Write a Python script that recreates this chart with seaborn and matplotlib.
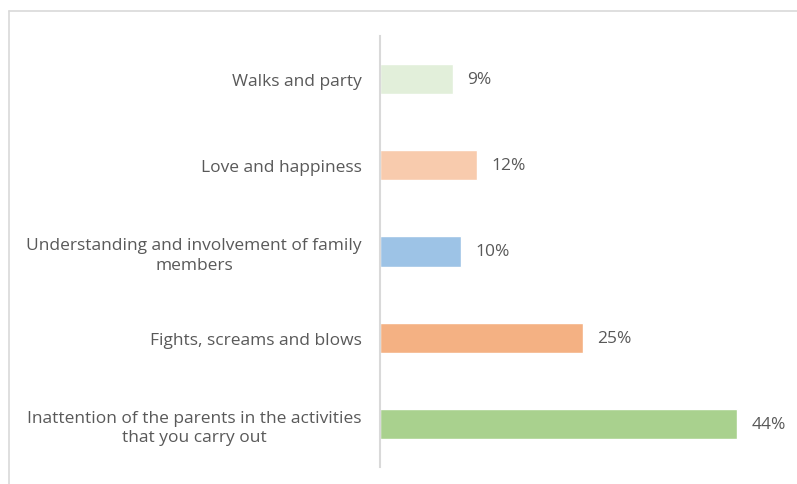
import matplotlib
matplotlib.use("Agg")
import matplotlib.pyplot as plt
from matplotlib.lines import Line2D
import seaborn as sns
import pandas as pd

categories = [
    "Walks and party",
    "Love and happiness",
    "Understanding and involvement of family\nmembers",
    "Fights, screams and blows",
    "Inattention of the parents in the activities\nthat you carry out",
]
values = [9, 12, 10, 25, 44]
colors = ["#E2EFDA", "#F8CBAD", "#9DC3E6", "#F4B183", "#A9D18E"]

sns.set_theme(style="white")
plt.rcParams["font.family"] = ["Open Sans", "DejaVu Sans"]
text_color = "#595959"
fsize = 12.5

df = pd.DataFrame({"category": categories, "value": values})

fig = plt.figure(figsize=(7.97, 4.85), dpi=100)
ax = fig.add_axes([380 / 797, 17 / 485, 406 / 797, 431 / 485])

sns.barplot(data=df, x="value", y="category", hue="category",
            palette=colors, orient="h", width=0.35, legend=False,
            saturation=1, ax=ax)

ax.set_xlim(0, 50)
ax.set_ylim(4.5, -0.5)
ax.set_xlabel("")
ax.set_ylabel("")
ax.set_xticks([])
for side in ["top", "right", "bottom"]:
    ax.spines[side].set_visible(False)
ax.spines["left"].set_color("#D9D9D9")
ax.spines["left"].set_linewidth(1.5)

ax.tick_params(axis="y", length=0, pad=13, labelsize=fsize, labelcolor=text_color)
for lbl in ax.get_yticklabels():
    lbl.set_multialignment("center")
    lbl.set_linespacing(1.3)

for container in ax.containers:
    ax.bar_label(container, labels=[f"{v:.0f}%" for v in container.datavalues],
                 padding=10, fontsize=fsize, color=text_color)

# chart frame
fig.add_artist(Line2D([8.5 / 797, 8.5 / 797], [0, 1 - 11.5 / 485],
                      transform=fig.transFigure, color="#D9D9D9", lw=1.2))
fig.add_artist(Line2D([8.5 / 797, 1], [1 - 11.5 / 485, 1 - 11.5 / 485],
                      transform=fig.transFigure, color="#D9D9D9", lw=1.2))

fig.savefig("out.png", dpi=100)
